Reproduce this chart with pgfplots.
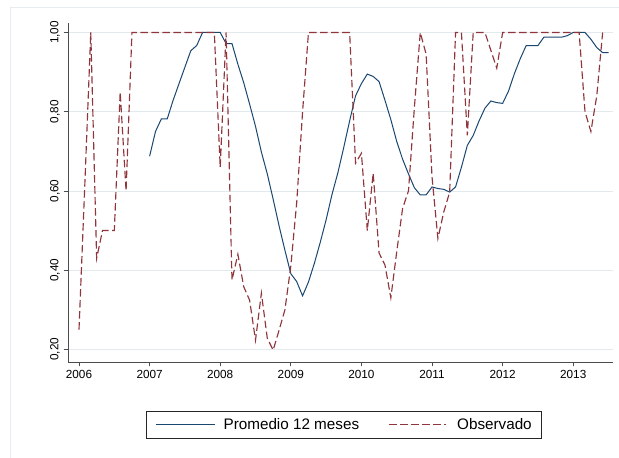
\documentclass[border=0pt]{standalone}
\usepackage{fontspec}
\setmainfont{Liberation Sans}
\usepackage{pgfplots}
\pgfplotsset{compat=1.18}
\usepackage{pgfplotstable}

\definecolor{stnavy}{RGB}{26,71,111}
\definecolor{stmaroon}{RGB}{144,53,59}
\definecolor{stgrid}{RGB}{226,234,238}
\definecolor{stframe}{RGB}{230,236,240}

% legend samples with the spacing of the key
\pgfplotsset{
  legavg/.style={legend image code/.code={
    \draw[##1] (0bp,0bp) -- (58.6bp,0bp);
    \path[draw=none, fill=none] (0bp,-1bp) rectangle (67.3bp,1bp);}},
  legobs/.style={legend image code/.code={
    \path[draw=none, fill=none] (-30bp,-1bp) rectangle (68bp,1bp);
    \draw[##1] (0bp,0bp) -- (57bp,0bp);}},
}

% Monthly observations, t = months since 2006m1
\pgfplotstableread{
t obs
0 0.25
1 0.62
2 1.00
3 0.43
4 0.50
5 0.50
6 0.50
7 0.85
8 0.60
9 1.00
10 1.00
11 1.00
12 1.00
13 1.00
14 1.00
15 1.00
16 1.00
17 1.00
18 1.00
19 1.00
20 1.00
21 1.00
22 1.00
23 1.00
24 0.66
25 1.00
26 0.375
27 0.44
28 0.358
29 0.324
30 0.223
31 0.342
32 0.228
33 0.198
34 0.248
35 0.30
36 0.41
37 0.57
38 0.80
39 1.00
40 1.00
41 1.00
42 1.00
43 1.00
44 1.00
45 1.00
46 1.00
47 0.67
48 0.695
49 0.50
50 0.645
51 0.443
52 0.413
53 0.33
54 0.446
55 0.556
56 0.60
57 0.81
58 1.00
59 0.945
60 0.635
61 0.48
62 0.547
63 0.597
64 1.00
65 1.00
66 0.74
67 1.00
68 1.00
69 1.00
70 0.955
71 0.91
72 1.00
73 1.00
74 1.00
75 1.00
76 1.00
77 1.00
78 1.00
79 1.00
80 1.00
81 1.00
82 1.00
83 1.00
84 1.00
85 1.00
86 0.80
87 0.75
88 0.84
89 1.00
}\observado

% Twelve-month average
\pgfplotstableread{
t avg
12 0.6875
13 0.75
14 0.782
15 0.782
16 0.829
17 0.871
18 0.9125
19 0.954
20 0.967
21 1.00
22 1.00
23 1.00
24 1.00
25 0.972
26 0.972
27 0.92
28 0.873
29 0.819
30 0.763
31 0.698
32 0.643
33 0.579
34 0.512
35 0.45
36 0.391
37 0.371
38 0.335
39 0.370
40 0.417
41 0.470
42 0.527
43 0.591
44 0.646
45 0.71
46 0.777
47 0.84
48 0.871
49 0.895
50 0.889
51 0.876
52 0.829
53 0.78
54 0.725
55 0.68
56 0.643
57 0.608
58 0.590
59 0.590
60 0.610
61 0.606
62 0.604
63 0.597
64 0.610
65 0.660
66 0.715
67 0.740
68 0.777
69 0.809
70 0.827
71 0.823
72 0.821
73 0.852
74 0.896
75 0.934
76 0.967
77 0.967
78 0.967
79 0.988
80 0.988
81 0.988
82 0.988
83 0.992
84 1.00
85 1.00
86 1.00
87 0.983
88 0.962
89 0.949
90 0.949
}\promedio

\begin{document}
\begin{tikzpicture}[x=1bp,y=1bp]
\useasboundingbox (0,0) rectangle (619,458);
% graph region outline
\draw[stframe, line width=0.8bp] (10,0) -- (10,451) -- (619,451);
\begin{axis}[
  at={(68bp,96bp)}, anchor=south west,
  scale only axis, width=545bp, height=339bp,
  xmin=-1.87, xmax=90.76, ymin=0.168, ymax=1.024,
  axis lines*=left,
  axis line style={black!70, line width=0.8bp},
  tick align=outside,
  major tick length=4.5bp,
  tick style={black!70, line width=0.8bp},
  xtick={0,12,24,36,48,60,72,84},
  xticklabels={2006,2007,2008,2009,2010,2011,2012,2013},
  ytick={0.2,0.4,0.6,0.8,1.0},
  yticklabels={{0,20},{0,40},{0,60},{0,80},{1,00}},
  yticklabel style={rotate=90, anchor=south},
  tick label style={font=\fontsize{11.8}{14}\selectfont, black},
  ymajorgrids,
  grid style={stgrid, line width=0.8bp},
  legend columns=2,
  legend style={at={(0.506,-0.185)}, anchor=center,
    draw=black!85, line width=0.7bp, fill=white,
    inner xsep=9.2bp, inner ysep=7.4bp,
    column sep=0pt, row sep=0pt,
    nodes={inner sep=0pt},
    font=\fontsize{15.3}{18}\selectfont},
]
\addplot[stnavy, line width=1bp, legavg]
  table[x=t, y=avg] {\promedio};
\addlegendentry{Promedio 12 meses}
\addplot[stmaroon, line width=1.15bp, dash pattern=on 7.5bp off 3.5bp, legobs]
  table[x=t, y=obs] {\observado};
\addlegendentry{Observado}
\end{axis}
\end{tikzpicture}
\end{document}
